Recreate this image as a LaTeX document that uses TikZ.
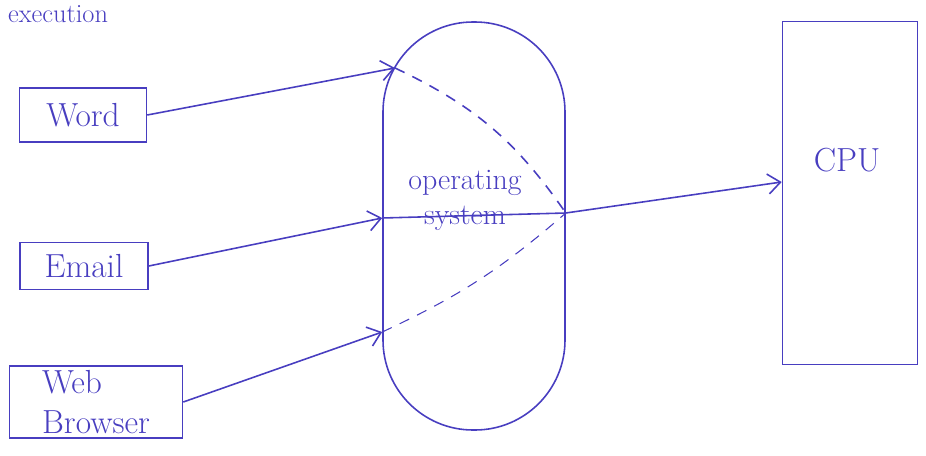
\documentclass[tikz,border=0pt]{standalone}
\usepackage{tikz}
\usetikzlibrary{arrows.meta,positioning}
\definecolor{ink}{RGB}{72,62,192}

\begin{document}
\begin{tikzpicture}[x=0.2mm, y=-0.2mm,
        every node/.style={text=ink, font=\fontsize{19}{23}\selectfont},
        app/.style={draw=ink, line width=0.9pt, align=left, inner sep=2pt},
        osblob/.style={draw=ink, line width=0.9pt, rounded corners=1.8cm, minimum width=3.64cm, minimum height=8.16cm},
        cpubox/.style={draw=ink, line width=0.9pt, minimum width=2.7cm, minimum height=6.86cm},
        arrow/.style={-{Straight Barb[length=2.5mm,width=4mm]}, draw=ink, line width=0.9pt},
        link/.style={draw=ink, line width=0.9pt},
        dashlink/.style={draw=ink, line width=0.9pt, dash pattern=on 6pt off 5pt}
    ]
        \useasboundingbox (0,0) rectangle (926,455);

        \node[anchor=base west, font=\fontsize{15}{18}\selectfont] (topword) at (2,22) {execution};

        \node[app, minimum width=2.54cm, minimum height=1.08cm] (word) at (83,115) {Word};
        \node[app, minimum width=2.56cm, minimum height=0.94cm] (email) at (84,266) {Email};
        \node[app, minimum width=3.46cm, minimum height=1.44cm] (web) at (96,402) {Web\\Browser};

        \node[osblob] (os) at (474,226) {};
        \node[align=center, font=\fontsize{17}{20}\selectfont] (oslabel) at (465,200) {operating\\system};

        \node[cpubox] (cpu) at (850,193) {};
        \node (cpulabel) at (847,160) {CPU};

        % entry and exit points on the OS border
        \coordinate (inword) at (395,68);
        \coordinate (inemail) at ([yshift=1.6mm]os.west);
        \coordinate (inweb) at ([yshift=-21.2mm]os.west);
        \coordinate (outos) at ([yshift=2.6mm]os.east);
        \coordinate (incpu) at ([yshift=2.2mm]cpu.west);

        \draw[arrow] (word.east) -- (inword);
        \draw[arrow] (email.east) -- (inemail);
        \draw[arrow] (web.east) -- (inweb);

        \draw[link] (inemail) -- (outos);
        \draw[dashlink] (inword) to[bend left=15] (outos);
        \draw[dashlink, line width=0.6pt] (inweb) to[bend right=8] (outos);

        \draw[arrow] (outos) -- (incpu);
    \end{tikzpicture}
\end{document}
